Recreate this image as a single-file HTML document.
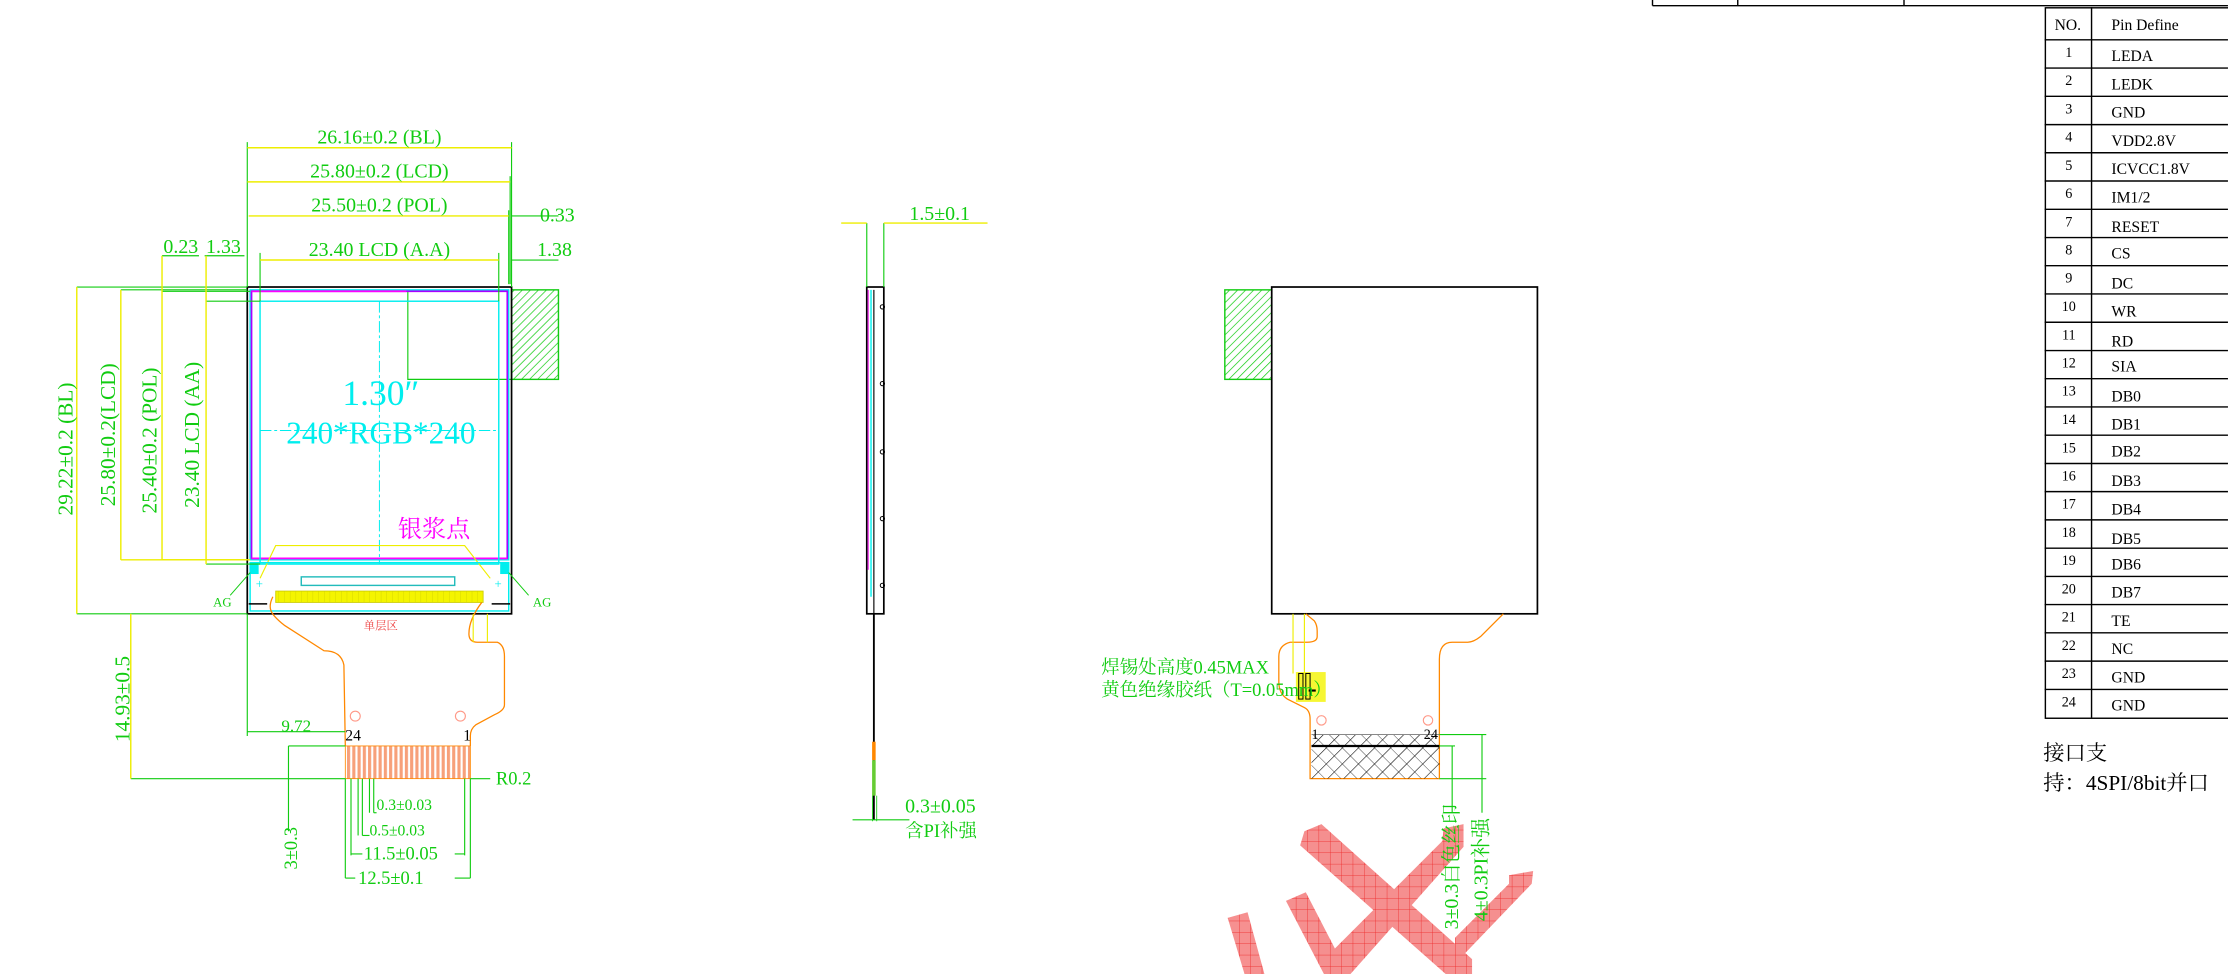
<!DOCTYPE html>
<html><head><meta charset="utf-8"><style>
html,body{margin:0;padding:0;background:#fff;}
svg{display:block;}
text{font-family:"Liberation Serif","Noto Serif CJK SC","Noto Sans CJK SC",serif;}
</style></head><body>
<svg width="2228" height="974" viewBox="0 0 1568 685.5" xmlns="http://www.w3.org/2000/svg">
<defs>
<pattern id="hg" width="4" height="4" patternUnits="userSpaceOnUse" patternTransform="rotate(45)"><line x1="0" y1="0" x2="0" y2="4" stroke="#1c1" stroke-width="1"/></pattern>
<pattern id="hk" width="8" height="8" patternUnits="userSpaceOnUse" patternTransform="rotate(45)"><line x1="0" y1="0" x2="0" y2="8" stroke="#000" stroke-width="0.8"/><line x1="0" y1="0" x2="8" y2="0" stroke="#000" stroke-width="0.5"/></pattern>
<pattern id="rd" width="8" height="8" patternUnits="userSpaceOnUse"><rect width="8" height="8" fill="#f58a8a"/><line x1="0" y1="0" x2="8" y2="0" stroke="#e22" stroke-width="0.6"/><line x1="0" y1="0" x2="0" y2="8" stroke="#e22" stroke-width="0.6"/></pattern>
<pattern id="pin" width="3.7" height="10" patternUnits="userSpaceOnUse"><rect width="3.7" height="10" fill="#fff"/><rect width="2.2" height="10" fill="#f7a07a"/></pattern>
<pattern id="ypin" width="4" height="10" patternUnits="userSpaceOnUse"><rect width="4" height="10" fill="#f4f400"/><line x1="0" y1="0" x2="0" y2="10" stroke="#cc0" stroke-width="0.5"/></pattern>
</defs>

<!-- top table stub -->
<g stroke="#000" stroke-width="1" fill="none">
<line x1="1163" y1="4" x2="1568" y2="4"/><line x1="1163" y1="0" x2="1163" y2="4"/><line x1="1223" y1="0" x2="1223" y2="4"/><line x1="1340" y1="0" x2="1340" y2="4"/>
</g>

<!-- pin table -->
<g stroke="#000" stroke-width="1" fill="none">
<rect x="1439.5" y="5.5" width="140" height="500"/>
<line x1="1472" y1="5" x2="1472" y2="505"/>
<line x1="1439" y1="28" x2="1568" y2="28"/>
</g>
<g font-size="11" fill="#000">
<text x="1446" y="21">NO.</text><text x="1486" y="21">Pin Define</text>
</g>
<g font-size="11" fill="#000">
<g transform="translate(0,28)"><line x1="1439" y1="19.9" x2="1568" y2="19.9" stroke="#000"/><text x="1456" y="12" font-size="10" text-anchor="middle">1</text><text x="1486" y="15">LEDA</text></g>
<g transform="translate(0,47.9)"><line x1="1439" y1="19.9" x2="1568" y2="19.9" stroke="#000"/><text x="1456" y="12" font-size="10" text-anchor="middle">2</text><text x="1486" y="15">LEDK</text></g>
<g transform="translate(0,67.8)"><line x1="1439" y1="19.9" x2="1568" y2="19.9" stroke="#000"/><text x="1456" y="12" font-size="10" text-anchor="middle">3</text><text x="1486" y="15">GND</text></g>
<g transform="translate(0,87.6)"><line x1="1439" y1="19.9" x2="1568" y2="19.9" stroke="#000"/><text x="1456" y="12" font-size="10" text-anchor="middle">4</text><text x="1486" y="15">VDD2.8V</text></g>
<g transform="translate(0,107.5)"><line x1="1439" y1="19.9" x2="1568" y2="19.9" stroke="#000"/><text x="1456" y="12" font-size="10" text-anchor="middle">5</text><text x="1486" y="15">ICVCC1.8V</text></g>
<g transform="translate(0,127.4)"><line x1="1439" y1="19.9" x2="1568" y2="19.9" stroke="#000"/><text x="1456" y="12" font-size="10" text-anchor="middle">6</text><text x="1486" y="15">IM1/2</text></g>
<g transform="translate(0,147.3)"><line x1="1439" y1="19.9" x2="1568" y2="19.9" stroke="#000"/><text x="1456" y="12" font-size="10" text-anchor="middle">7</text><text x="1486" y="16">RESET</text></g>
<g transform="translate(0,167.1)"><line x1="1439" y1="19.9" x2="1568" y2="19.9" stroke="#000"/><text x="1456" y="12" font-size="10" text-anchor="middle">8</text><text x="1486" y="15">CS</text></g>
<g transform="translate(0,187)"><line x1="1439" y1="19.9" x2="1568" y2="19.9" stroke="#000"/><text x="1456" y="12" font-size="10" text-anchor="middle">9</text><text x="1486" y="16">DC</text></g>
<g transform="translate(0,206.9)"><line x1="1439" y1="19.9" x2="1568" y2="19.9" stroke="#000"/><text x="1456" y="12" font-size="10" text-anchor="middle">10</text><text x="1486" y="16">WR</text></g>
<g transform="translate(0,226.8)"><line x1="1439" y1="19.9" x2="1568" y2="19.9" stroke="#000"/><text x="1456" y="12" font-size="10" text-anchor="middle">11</text><text x="1486" y="17">RD</text></g>
<g transform="translate(0,246.6)"><line x1="1439" y1="19.9" x2="1568" y2="19.9" stroke="#000"/><text x="1456" y="12" font-size="10" text-anchor="middle">12</text><text x="1486" y="15">SIA</text></g>
<g transform="translate(0,266.5)"><line x1="1439" y1="19.9" x2="1568" y2="19.9" stroke="#000"/><text x="1456" y="12" font-size="10" text-anchor="middle">13</text><text x="1486" y="16">DB0</text></g>
<g transform="translate(0,286.4)"><line x1="1439" y1="19.9" x2="1568" y2="19.9" stroke="#000"/><text x="1456" y="12" font-size="10" text-anchor="middle">14</text><text x="1486" y="16">DB1</text></g>
<g transform="translate(0,306.3)"><line x1="1439" y1="19.9" x2="1568" y2="19.9" stroke="#000"/><text x="1456" y="12" font-size="10" text-anchor="middle">15</text><text x="1486" y="15">DB2</text></g>
<g transform="translate(0,326.1)"><line x1="1439" y1="19.9" x2="1568" y2="19.9" stroke="#000"/><text x="1456" y="12" font-size="10" text-anchor="middle">16</text><text x="1486" y="16">DB3</text></g>
<g transform="translate(0,346)"><line x1="1439" y1="19.9" x2="1568" y2="19.9" stroke="#000"/><text x="1456" y="12" font-size="10" text-anchor="middle">17</text><text x="1486" y="16">DB4</text></g>
<g transform="translate(0,365.9)"><line x1="1439" y1="19.9" x2="1568" y2="19.9" stroke="#000"/><text x="1456" y="12" font-size="10" text-anchor="middle">18</text><text x="1486" y="17">DB5</text></g>
<g transform="translate(0,385.8)"><line x1="1439" y1="19.9" x2="1568" y2="19.9" stroke="#000"/><text x="1456" y="12" font-size="10" text-anchor="middle">19</text><text x="1486" y="15">DB6</text></g>
<g transform="translate(0,405.6)"><line x1="1439" y1="19.9" x2="1568" y2="19.9" stroke="#000"/><text x="1456" y="12" font-size="10" text-anchor="middle">20</text><text x="1486" y="15">DB7</text></g>
<g transform="translate(0,425.5)"><line x1="1439" y1="19.9" x2="1568" y2="19.9" stroke="#000"/><text x="1456" y="12" font-size="10" text-anchor="middle">21</text><text x="1486" y="15">TE</text></g>
<g transform="translate(0,445.4)"><line x1="1439" y1="19.9" x2="1568" y2="19.9" stroke="#000"/><text x="1456" y="12" font-size="10" text-anchor="middle">22</text><text x="1486" y="15">NC</text></g>
<g transform="translate(0,465.3)"><line x1="1439" y1="19.9" x2="1568" y2="19.9" stroke="#000"/><text x="1456" y="12" font-size="10" text-anchor="middle">23</text><text x="1486" y="15">GND</text></g>
<g transform="translate(0,485.1)"><text x="1456" y="12" font-size="10" text-anchor="middle">24</text><text x="1486" y="15">GND</text></g>
</g>
<text x="1438" y="535" font-size="15" fill="#000">接口支</text>
<text x="1438" y="556" font-size="15" fill="#000">持：4SPI/8bit并口</text>

<!-- ===== FRONT VIEW ===== -->
<rect x="360" y="204" width="33" height="63" fill="url(#hg)" stroke="#1c1" stroke-width="1"/>
<polyline points="360,267 287,267 287,204" fill="none" stroke="#1c1" stroke-width="0.8"/>
<rect x="174" y="202" width="186" height="230" fill="none" stroke="#000" stroke-width="1.2"/>
<rect x="176" y="204" width="182" height="190" fill="none" stroke="#0ee" stroke-width="1"/>
<rect x="177" y="205" width="180" height="188" fill="none" stroke="#a0f" stroke-width="1.2"/>
<line x1="177" y1="205" x2="286" y2="205" stroke="#f0f" stroke-width="1.2"/>
<line x1="177" y1="393" x2="357" y2="393" stroke="#f0f" stroke-width="1.2"/>
<rect x="183" y="212" width="168" height="185" fill="none" stroke="#0ee" stroke-width="1"/>
<line x1="267" y1="212" x2="267" y2="397" stroke="#0ee" stroke-width="0.7" stroke-dasharray="8,2,2,2"/>
<line x1="183" y1="303" x2="351" y2="303" stroke="#0ee" stroke-width="0.7" stroke-dasharray="8,2,2,2"/>
<text x="268" y="285" font-size="25" fill="#0ee" text-anchor="middle">1.30″</text>
<text x="268" y="312" font-size="22" fill="#0ee" text-anchor="middle">240*RGB*240</text>
<text x="280" y="378" font-size="17" fill="#f0f">银浆点</text>
<polyline points="183,407 194,384 327,384 345,407" fill="none" stroke="#ee0" stroke-width="0.8"/>
<rect x="176" y="396" width="182" height="34" fill="none" stroke="#0ee" stroke-width="1"/>
<rect x="176" y="396" width="6" height="8" fill="#0ee"/><rect x="352" y="396" width="6" height="8" fill="#0ee"/>
<rect x="212" y="406" width="108" height="6" fill="none" stroke="#2bb" stroke-width="1"/>
<rect x="194" y="416" width="146" height="8" fill="url(#ypin)" stroke="#cc0" stroke-width="0.6"/>
<text x="180" y="414" font-size="9" fill="#0ee">+</text><text x="348" y="414" font-size="9" fill="#0ee">+</text>
<line x1="175" y1="425" x2="188" y2="425" stroke="#000"/><line x1="346" y1="425" x2="359" y2="425" stroke="#000"/>
<line x1="162" y1="419" x2="176" y2="403" stroke="#1c1" stroke-width="0.7"/><line x1="358" y1="403" x2="372" y2="419" stroke="#1c1" stroke-width="0.7"/>
<text x="150" y="427" font-size="9" fill="#1c1">AG</text><text x="375" y="427" font-size="9" fill="#1c1">AG</text>

<!-- left FPC -->
<path d="M192,420 C188,428 190,432 200,440 L228,458 Q240,458 242,468 L243,525" fill="none" stroke="#f80" stroke-width="0.9"/>
<path d="M339,424 Q330,436 330,446 Q330,452 336,452 L350,452 Q355,454 355,462 L355,496 Q355,500 348,503 L335,510 Q331,513 331,518 L331,525" fill="none" stroke="#f80" stroke-width="0.9"/>
<line x1="333" y1="432" x2="333" y2="452" stroke="#ee0" stroke-width="0.8"/><line x1="343" y1="432" x2="343" y2="452" stroke="#ee0" stroke-width="0.8"/>
<text x="268" y="443" font-size="8" fill="#e44" text-anchor="middle">单层区</text>
<circle cx="250" cy="504" r="3.5" fill="none" stroke="#f98" stroke-width="0.8"/><circle cx="324" cy="504" r="3.5" fill="none" stroke="#f98" stroke-width="0.8"/>
<text x="243" y="521" font-size="11" fill="#000">24</text><text x="326" y="521" font-size="11" fill="#000">1</text>
<rect x="243" y="525" width="88" height="23" fill="url(#pin)" stroke="#f80" stroke-width="0.6"/>

<!-- front view dims -->
<g stroke="#1c1" stroke-width="0.8" fill="none">
<line x1="174" y1="100" x2="174" y2="202"/><line x1="360" y1="100" x2="360" y2="202"/>
<line x1="359" y1="124" x2="359" y2="200"/><line x1="358" y1="148" x2="358" y2="200"/>
<line x1="183" y1="178" x2="183" y2="212"/><line x1="351" y1="178" x2="351" y2="212"/>
<line x1="54" y1="202" x2="174" y2="202"/><line x1="54" y1="432" x2="174" y2="432"/>
<line x1="85" y1="204" x2="174" y2="204"/>
<line x1="114" y1="205" x2="176" y2="205"/>
<line x1="145" y1="212" x2="183" y2="212"/><line x1="145" y1="397" x2="183" y2="397"/>
<line x1="174" y1="432" x2="174" y2="518"/>
<line x1="92" y1="548" x2="243" y2="548"/>
<line x1="203" y1="525" x2="243" y2="525"/>
<line x1="243" y1="548" x2="243" y2="618"/><line x1="331" y1="548" x2="331" y2="618"/>
<line x1="247" y1="548" x2="247" y2="602"/><line x1="327" y1="548" x2="327" y2="602"/>
<line x1="252" y1="548" x2="252" y2="588"/><line x1="255" y1="548" x2="255" y2="588"/>
<line x1="260" y1="548" x2="260" y2="572"/><line x1="263" y1="548" x2="263" y2="572"/>
<line x1="393" y1="152" x2="360" y2="152"/><line x1="393" y1="183" x2="360" y2="183"/>
<line x1="114" y1="180" x2="140" y2="180"/><line x1="144" y1="180" x2="172" y2="180"/>
</g>
<g stroke="#ee0" stroke-width="1" fill="none">
<line x1="174" y1="104" x2="360" y2="104"/><line x1="174" y1="128" x2="359" y2="128"/>
<line x1="175" y1="152" x2="358" y2="152"/><line x1="183" y1="183" x2="351" y2="183"/>
<line x1="54" y1="202" x2="54" y2="432"/><line x1="85" y1="204" x2="85" y2="394"/>
<line x1="114" y1="180" x2="114" y2="394"/><line x1="145" y1="180" x2="145" y2="397"/>
<line x1="92" y1="432" x2="92" y2="548"/><line x1="85" y1="394" x2="174" y2="394"/><line x1="114" y1="394" x2="176" y2="394"/>
</g>
<g fill="#1c1" font-size="14">
<text x="267" y="101" text-anchor="middle">26.16±0.2 (BL)</text>
<text x="267" y="125" text-anchor="middle">25.80±0.2 (LCD)</text>
<text x="267" y="149" text-anchor="middle">25.50±0.2 (POL)</text>
<text x="267" y="180" text-anchor="middle">23.40 LCD (A.A)</text>
<text x="380" y="156">0.33</text><text x="378" y="180">1.38</text>
<text x="115" y="178">0.23</text><text x="145" y="178">1.33</text>
<text transform="translate(51,316) rotate(-90)" text-anchor="middle" font-size="15">29.22±0.2 (BL)</text>
<text transform="translate(81,306) rotate(-90)" text-anchor="middle" font-size="15">25.80±0.2(LCD)</text>
<text transform="translate(110,310) rotate(-90)" text-anchor="middle" font-size="15">25.40±0.2 (POL)</text>
<text transform="translate(140,306) rotate(-90)" text-anchor="middle" font-size="15">23.40 LCD (AA)</text>
<text transform="translate(91,492) rotate(-90)" text-anchor="middle" font-size="15">14.93±0.5</text>
<text transform="translate(209,597) rotate(-90)" text-anchor="middle" font-size="13">3±0.3</text>
<text x="198" y="515" font-size="12">9.72</text>
<text x="349" y="552" font-size="13">R0.2</text>
<text x="265" y="570" font-size="11">0.3±0.03</text>
<text x="260" y="588" font-size="11">0.5±0.03</text>
<text x="256" y="605" font-size="13">11.5±0.05</text>
<text x="252" y="622" font-size="13">12.5±0.1</text>
</g>
<g stroke="#1c1" stroke-width="0.8">
<line x1="174" y1="515" x2="243" y2="515"/><line x1="203" y1="525" x2="203" y2="585"/>
<line x1="331" y1="548" x2="345" y2="548"/><line x1="247" y1="601" x2="255" y2="601"/><line x1="320" y1="601" x2="327" y2="601"/>
<line x1="243" y1="618" x2="250" y2="618"/><line x1="320" y1="618" x2="331" y2="618"/>
<line x1="263" y1="572" x2="265" y2="572"/><line x1="255" y1="588" x2="260" y2="588"/>
</g>

<!-- ===== SIDE VIEW ===== -->
<g fill="none">
<rect x="610" y="202" width="12" height="230" stroke="#000" stroke-width="1.2"/>
<line x1="611" y1="204" x2="611" y2="401" stroke="#e4e" stroke-width="1"/>
<line x1="613" y1="204" x2="613" y2="420" stroke="#0ee" stroke-width="1"/>
<line x1="615" y1="204" x2="615" y2="432" stroke="#000" stroke-width="0.8"/>
<line x1="615" y1="432" x2="615" y2="577" stroke="#000" stroke-width="1.3"/>
<line x1="615" y1="522" x2="615" y2="535" stroke="#f80" stroke-width="2.5"/>
<line x1="615" y1="535" x2="615" y2="560" stroke="#6c3" stroke-width="2.5"/>
<line x1="610" y1="157" x2="610" y2="202" stroke="#1c1" stroke-width="0.8"/>
<line x1="622" y1="157" x2="622" y2="202" stroke="#1c1" stroke-width="0.8"/>
<line x1="592" y1="157" x2="610" y2="157" stroke="#ee0" stroke-width="1"/>
<line x1="622" y1="157" x2="695" y2="157" stroke="#ee0" stroke-width="1"/>
<line x1="600" y1="577" x2="640" y2="577" stroke="#1c1" stroke-width="0.8"/>
<line x1="614" y1="560" x2="614" y2="578" stroke="#1c1" stroke-width="0.6"/><line x1="617" y1="560" x2="617" y2="578" stroke="#1c1" stroke-width="0.6"/>
</g>
<g fill="none" stroke="#000" stroke-width="0.7"><circle cx="621" cy="216" r="1.5"/><circle cx="621" cy="270" r="1.5"/><circle cx="621" cy="318" r="1.5"/><circle cx="621" cy="365" r="1.5"/><circle cx="621" cy="412" r="1.5"/></g>
<text x="640" y="155" font-size="14" fill="#1c1">1.5±0.1</text>
<text x="637" y="572" font-size="14" fill="#1c1">0.3±0.05</text>
<text x="637" y="589" font-size="13" fill="#1c1">含PI补强</text>

<!-- ===== BACK VIEW ===== -->
<rect x="862" y="204" width="33" height="63" fill="url(#hg)" stroke="#1c1" stroke-width="1"/>
<rect x="895" y="202" width="187" height="230" fill="none" stroke="#000" stroke-width="1.2"/>
<path d="M919,432 L925,437 Q927,440 927,444 L927,448 Q927,452 920,452 L908,452 Q900,454 900,462 L900,480 Q900,488 906,492 L918,498 Q922,500 922,506 L922,548 L1013,548 L1013,464 Q1013,452 1022,452 L1033,452 Q1037,452 1042,448 L1058,432" fill="none" stroke="#f80" stroke-width="0.9"/>
<line x1="910" y1="432" x2="910" y2="474" stroke="#ee0" stroke-width="0.8"/><line x1="918" y1="432" x2="918" y2="474" stroke="#ee0" stroke-width="0.8"/>
<rect x="912" y="473" width="21" height="21" fill="#f4f400" opacity="0.8"/>
<rect x="914" y="474" width="3" height="18" fill="none" stroke="#000" stroke-width="0.7"/><rect x="919" y="474" width="3" height="18" fill="none" stroke="#000" stroke-width="0.7"/>
<line x1="921" y1="486" x2="926" y2="486" stroke="#000" stroke-width="1.5"/>
<circle cx="930" cy="507" r="3.3" fill="none" stroke="#f98" stroke-width="0.8"/><circle cx="1005" cy="507" r="3.3" fill="none" stroke="#f98" stroke-width="0.8"/>
<rect x="923" y="517" width="90" height="31" fill="url(#hk)"/>
<line x1="923" y1="525" x2="1013" y2="525" stroke="#000" stroke-width="1.6"/>
<line x1="923" y1="517" x2="1013" y2="517" stroke="#777" stroke-width="0.6"/>
<text x="923" y="520" font-size="10" fill="#000">1</text><text x="1002" y="520" font-size="10" fill="#000">24</text>
<text x="775" y="474" font-size="13" fill="#1c1">焊锡处高度0.45MAX</text>
<text x="775" y="490" font-size="13" fill="#1c1">黄色绝缘胶纸（T=0.05mm）</text>
<g stroke="#1c1" stroke-width="0.8">
<line x1="1013" y1="517" x2="1046" y2="517"/><line x1="1013" y1="525" x2="1024" y2="525"/><line x1="1013" y1="548" x2="1046" y2="548"/>
<line x1="1022" y1="525" x2="1022" y2="572"/><line x1="1043" y1="517" x2="1043" y2="572"/>
</g>

<!-- red watermark -->
<g fill="url(#rd)" opacity="0.95">
<polygon points="918,585 930,580 1036,675 1036,686 1018,686 915,595"/>
<polygon points="935,672 1015,592 1016,583 1030,580 1030,596 950,686 935,686"/>
<polygon points="905,634 919,628 949,686 932,686"/>
<polygon points="864,646 878,642 890,686 876,686"/>
<polygon points="1079,613 1078,622 1030,672 1024,672 1024,660 1062,622 1062,616"/>
</g>
<text transform="translate(1026,610) rotate(-90)" text-anchor="middle" font-size="14" fill="#1c1">3±0.3白色丝印</text>
<text transform="translate(1047,612) rotate(-90)" text-anchor="middle" font-size="14" fill="#1c1">4±0.3PI补强</text>
</svg>
</body></html>
